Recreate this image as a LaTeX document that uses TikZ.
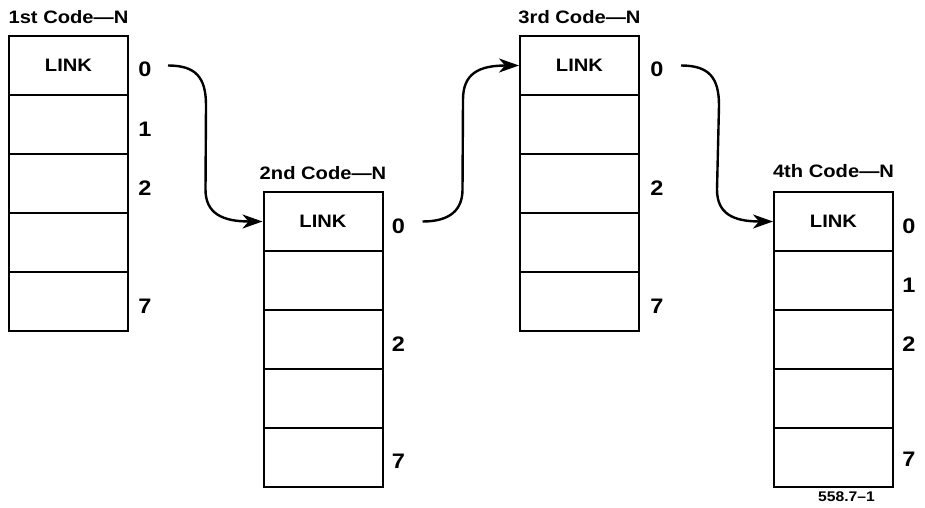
\documentclass[tikz,border=0pt]{standalone}
\usepackage{fontspec}
\setmainfont{Liberation Sans}[FakeStretch=1.12]
\usetikzlibrary{arrows.meta,calc}

\tikzset{
  cell/.style={draw, line width=2pt, minimum width=119pt, minimum height=59pt,
               inner sep=0pt, font=\fontsize{18}{18}\selectfont\bfseries},
  idx/.style={font=\fontsize{21}{21}\selectfont\bfseries, inner sep=0pt},
  title/.style={font=\fontsize{18}{18}\selectfont\bfseries, inner sep=0pt},
  tag/.style={font=\fontsize{14}{14}\selectfont\bfseries, inner sep=0pt},
  link/.style={line width=2.4pt, -{Stealth[length=20pt,width=14pt,inset=6pt]}}
}

\begin{document}
\begin{tikzpicture}[x=1pt,y=1pt]
\useasboundingbox (0,0) rectangle (925,507);

% four Code-N blocks of five slots each
\foreach \s/\cx/\top in {a/68.5/471, b/323/315, c/579.5/471, d/833.5/315} {
  \foreach \i in {1,...,5} {
    \node[cell] (\s\i) at (\cx, {\top-29.5-59*(\i-1)}) {\ifnum\i=1 LINK\fi};
  }
}

% block titles
\node[title] (ta) at ([yshift=18]a1.north) {1st Code—N};
\node[title] (tb) at ([yshift=18]b1.north) {2nd Code—N};
\node[title] (tc) at ([yshift=18]c1.north) {3rd Code—N};
\node[title] (td) at ([yshift=20]d1.north) {4th Code—N};

% slot numbers
\node[idx] (la1) at ([xshift=16,yshift=-4]a1.east) {0};
\node[idx] (la2) at ([xshift=16,yshift=-5]a2.east) {1};
\node[idx] (la3) at ([xshift=16,yshift=-5]a3.east) {2};
\node[idx] (la5) at ([xshift=16,yshift=-5]a5.east) {7};

\node[idx] (lb1) at ([xshift=15,yshift=-5]b1.east) {0};
\node[idx] (lb3) at ([xshift=15,yshift=-5]b3.east) {2};
\node[idx] (lb5) at ([xshift=15,yshift=-4]b5.east) {7};

\node[idx] (lc1) at ([xshift=17,yshift=-4]c1.east) {0};
\node[idx] (lc3) at ([xshift=17,yshift=-5]c3.east) {2};
\node[idx] (lc5) at ([xshift=17,yshift=-5]c5.east) {7};

\node[idx] (ld1) at ([xshift=15,yshift=-5]d1.east) {0};
\node[idx] (ld2) at ([xshift=15,yshift=-5]d2.east) {1};
\node[idx] (ld3) at ([xshift=15,yshift=-5]d3.east) {2};
\node[idx] (ld5) at ([xshift=15,yshift=-2]d5.east) {7};

\node[tag] (fig) at ([xshift=13,yshift=-9]d5.south) {558.7–1};

% link pointers
\coordinate (a0) at ([xshift=39]a1.east);
\coordinate (b0) at ([xshift=39]b1.east);
\coordinate (c0) at ([xshift=41]c1.east);

\draw[link] (a0) .. controls ($(a0)+(28,0)$) and ($(a0)+(38,-12)$) .. ($(a0)+(38,-40)$)
  -- ($(b1.west)+(-57,32)$) .. controls ($(b1.west)+(-57,8)$) and ($(b1.west)+(-40,0)$) .. (b1.west);

\draw[link] (b0) .. controls ($(b0)+(28,0)$) and ($(b0)+(40,12)$) .. ($(b0)+(40,32)$)
  -- ($(c1.west)+(-56,-34)$) .. controls ($(c1.west)+(-56,-8)$) and ($(c1.west)+(-40,0)$) .. (c1.west);

\draw[link] (c0) .. controls ($(c0)+(28,0)$) and ($(c0)+(38,-12)$) .. ($(c0)+(38,-40)$)
  -- ($(d1.west)+(-56,32)$) .. controls ($(d1.west)+(-56,8)$) and ($(d1.west)+(-40,0)$) .. (d1.west);
\end{tikzpicture}
\end{document}
